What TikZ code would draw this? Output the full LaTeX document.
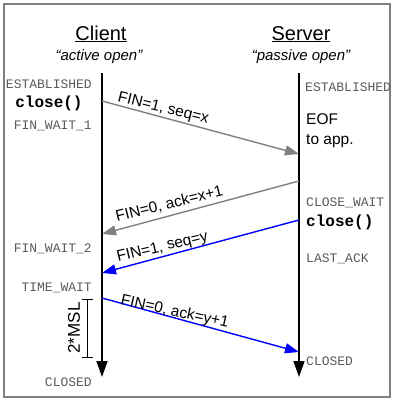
\documentclass[tikz,border=0pt]{standalone}
\usepackage{fontspec}
\setmainfont{Liberation Sans}
\setmonofont{Liberation Mono}
\usetikzlibrary{arrows.meta}
\definecolor{framegray}{HTML}{808080}
\definecolor{msggray}{HTML}{808080}
\definecolor{stategray}{HTML}{5A5A5A}
\definecolor{msgblue}{HTML}{0000FF}

\tikzset{
  party/.style={font=\fontsize{20}{24}\selectfont, inner sep=0pt, anchor=base},
  role/.style={font=\fontsize{15}{18}\selectfont\itshape, inner sep=0pt, anchor=base},
  state/.style={font=\fontsize{13}{15}\selectfont\ttfamily, text=stategray, inner sep=0pt},
  call/.style={font=\fontsize{16}{18}\selectfont\ttfamily\bfseries, inner sep=0pt},
  note/.style={font=\fontsize{15.5}{20}\selectfont, inner sep=0pt, align=left, anchor=base west},
  lifeline/.style={line width=1.7pt, -{Triangle[length=16pt,width=11pt]}},
  msg/.style={line width=1.4pt, -{Triangle[length=14pt,width=10pt]}},
  msglabel/.style={font=\fontsize{15.5}{18}\selectfont, inner sep=0pt, anchor=base west},
}

\begin{document}
\begin{tikzpicture}[x=1pt,y=-1pt]
  \useasboundingbox (0,0) rectangle (395,402);
  \draw[framegray, line width=1.2pt] (4,4) rectangle (390,397);

  % participants
  \node[party] (client) at (101,40) {\underline{Client}};
  \node[role]  (crole)  at (99,60) {“active open”};
  \node[party] (server) at (301,40) {\underline{Server}};
  \node[role]  (srole)  at (301,60) {“passive open”};

  % lifelines
  \coordinate (ctop) at (102,73);
  \coordinate (cend) at (102,377);
  \coordinate (stop) at (299,73);
  \coordinate (send) at (299,377);
  \draw[lifeline] (ctop) -- (cend);
  \draw[lifeline] (stop) -- (send);

  % client states
  \node[state, anchor=base east] (cest)  at (92,88.5) {ESTABLISHED};
  \node[call,  anchor=base]      (cclose) at (49,107) {close()};
  \node[state, anchor=base east] (cfw1)  at (92,129.5) {FIN\_WAIT\_1};
  \node[state, anchor=base east] (cfw2)  at (92,252) {FIN\_WAIT\_2};
  \node[state, anchor=base east] (ctw)   at (92,291) {TIME\_WAIT};
  \node[state, anchor=base east] (ccl)   at (92,386) {CLOSED};

  % server states
  \node[state, anchor=base west] (sest)  at (305,91.5) {ESTABLISHED};
  \node[note] (seof) at (306,144) {EOF\\to app.};
  \node[state, anchor=base west] (scw)   at (306,206.5) {CLOSE\_WAIT};
  \node[call,  anchor=base west] (sclose) at (306,226) {close()};
  \node[state, anchor=base west] (sla)   at (306,262) {LAST\_ACK};
  \node[state, anchor=base west] (scl)   at (306,365) {CLOSED};

  % message end points on the lifelines
  \coordinate (m1a) at (102,101);
  \coordinate (m1b) at (299,154);
  \coordinate (m2a) at (299,181);
  \coordinate (m2b) at (102,234);
  \coordinate (m3a) at (299,220);
  \coordinate (m3b) at (102,273);
  \coordinate (m4a) at (102,298);
  \coordinate (m4b) at (299,352);

  \draw[msg, msggray] (m1a) -- (m1b);
  \draw[msg, msggray] (m2a) -- (m2b);
  \draw[msg, msgblue] (m3a) -- (m3b);
  \draw[msg, msgblue] (m4a) -- (m4b);

  % segment labels
  \node[msglabel, rotate=-14] (l1) at (117,101) {FIN=1, seq=x};
  \node[msglabel, rotate=14]  (l2) at (117,222) {FIN=0, ack=x+1};
  \node[msglabel, rotate=13.5] (l3) at (118,262) {FIN=1, seq=y};
  \node[msglabel, rotate=-12.5] (l4) at (120,304) {FIN=0, ack=y+1};

  % 2*MSL wait interval
  \coordinate (wtop) at (87,299);
  \coordinate (wbot) at (87,357);
  \draw[line width=0.8pt] (wtop) -- (wbot);
  \draw[line width=0.8pt] ([xshift=-5.5pt]wtop) -- ([xshift=5.5pt]wtop);
  \draw[line width=0.8pt] ([xshift=-5.5pt]wbot) -- ([xshift=5.5pt]wbot);
  \node[font=\fontsize{17}{20}\selectfont, rotate=90, inner sep=0pt] (msl) at (74,328) {2*MSL};
\end{tikzpicture}
\end{document}
